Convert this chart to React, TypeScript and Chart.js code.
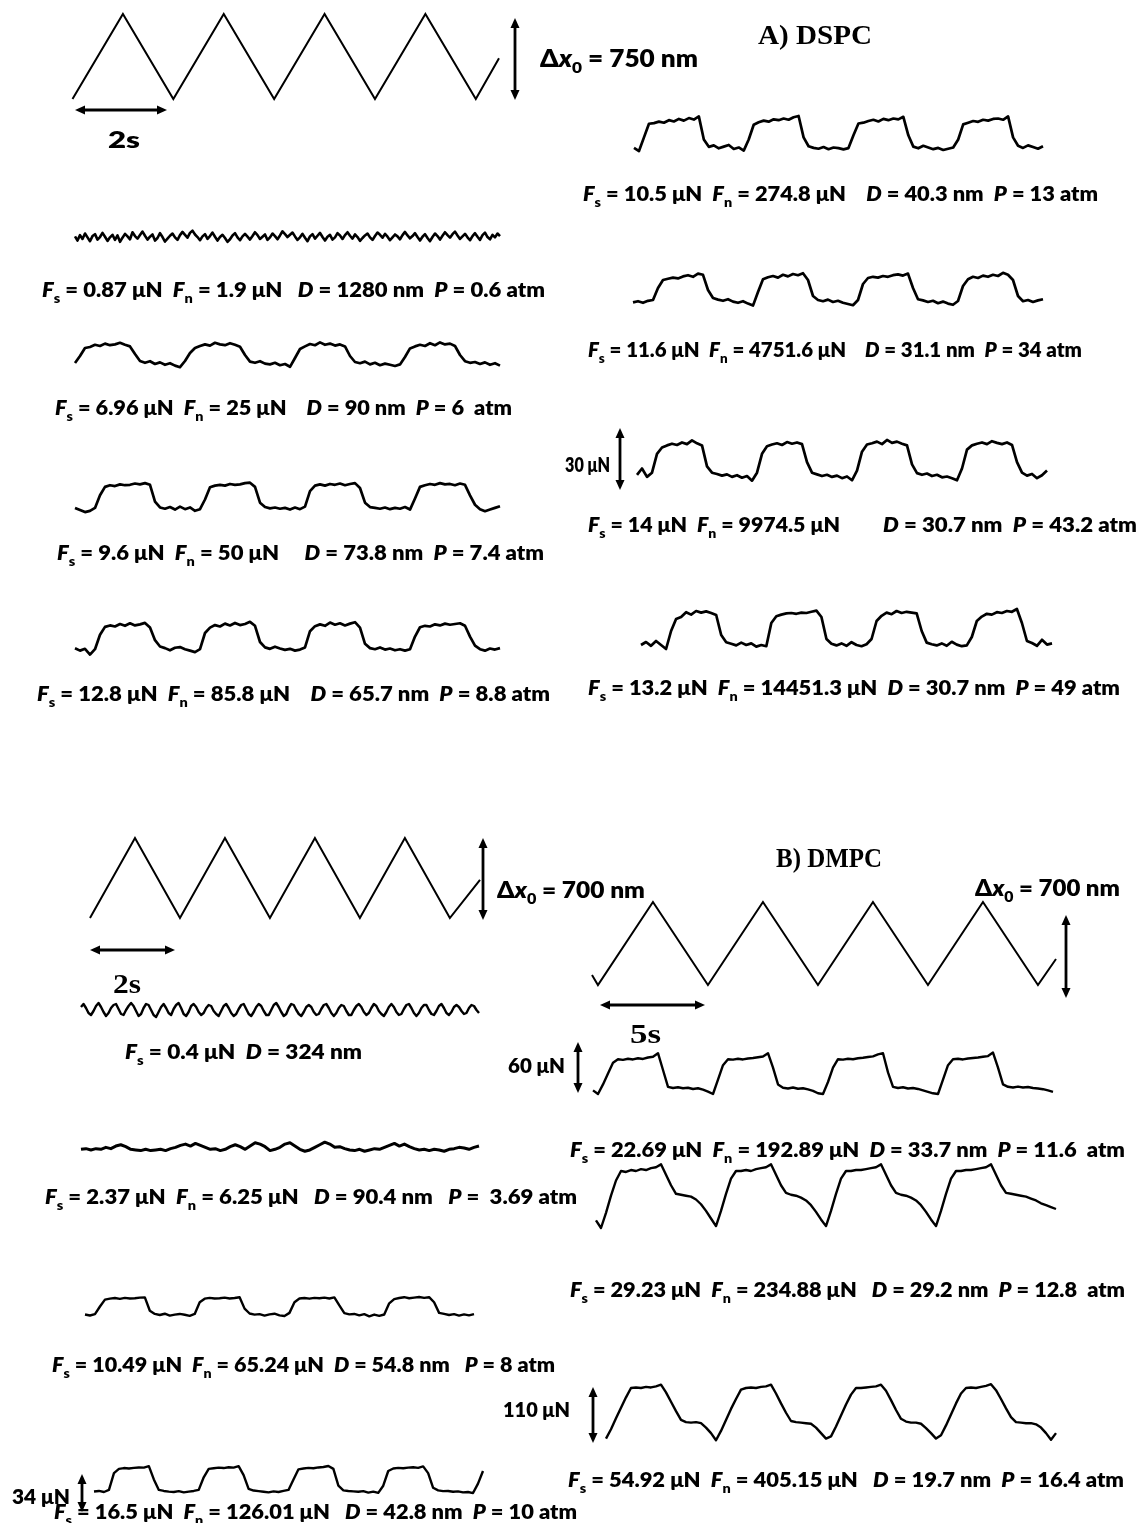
import React, { useEffect, useRef } from "react";
import { Chart, registerables } from "chart.js";
Chart.register(...registerables);

// ---------------- DATA ----------------
// Drive signals (time in s, displacement in nm), vertices of the triangle waves
const A_DRIVE_T = [0, 1, 2, 3, 4, 5, 6, 7, 8, 8.46];
const A_DRIVE_NM = [-375, 375, -375, 375, -375, 375, -375, 375, -375, -15];
const B_DRIVE_L_T = [0, 1, 2, 3, 4, 5, 6, 7, 8, 8.67];
const B_DRIVE_L_NM = [-350, 350, -350, 350, -350, 350, -350, 350, -350, -17];
const B_DRIVE_R_T = [-0.27, 0, 2.5, 5, 7.5, 10, 12.5, 15, 17.5, 20, 20.82];
const B_DRIVE_R_NM = [-266, -350, 350, -350, 350, -350, 350, -350, 350, -350, -131];

// Friction signals (μN, sampled at a fixed time step)
const A_T1 = [0.5,-0.8,0.9,-0.3,1.4,0.2,-1.0,0.6,1.2,-0.5,0.3,1.6,0.4,-0.9,0.2,1.0,-0.6,0.8,-1.2,0.1,1.3,0.5,-0.4,1.8,0.6,-0.2,0.9,2.0,0.7,-0.5,0.4,1.1,-0.8,0.0,1.5,0.3,-1.1,-0.2,0.7,1.4,0.2,-0.6,0.9,1.9,1.0,0.1,1.6,2.3,1.1,0.3,-0.7,0.5,1.2,-0.3,0.6,1.7,0.4,-0.8,0.3,1.0,0.0,-1.2,-0.4,0.8,1.5,0.2,-0.7,0.5,1.3,0.4,-0.5,0.6,1.8,0.9,-0.3,0.4,1.1,-0.6,0.2,1.4,0.6,-0.4,0.8,2.1,1.2,0.3,1.0,1.7,0.5,-0.6,0.2,1.3,0.1,-1.0,0.5,1.2,-0.2,0.7,1.6,0.3,-0.8,0.4,1.0,-0.5,0.2,1.5,0.8,-0.3,0.9,1.8,0.7,-0.2,1.1,0.3,-0.9,0.0,0.8,1.4,0.2,-0.6,0.6,1.7,1.0,0.1,1.3,0.4,-0.7,0.2,1.1,0.5,-0.4,0.9,1.9,0.8,-0.1,0.6,1.5,0.3,-0.8,0.4,1.2,0.0,-1.0,0.3,1.4,0.6,-0.5,0.7,1.8,0.9,0.1,1.2,2.0,0.8,-0.3,0.5,1.3,0.2,-0.7,0.6,1.5,0.4,-0.6,0.9,1.7,0.3,-0.4,1.0,0.2,1.4,0.6];
const A_T2 = [1.5,5.0,9.0,9.5,10.6,10.0,11.2,10.4,10.8,11.6,10.6,9.8,6.0,2.5,1.6,2.4,1.0,1.8,0.6,1.4,0.2,-0.6,2.5,6.5,9.0,10.0,10.8,10.2,11.6,10.8,10.4,11.4,10.6,9.6,5.5,2.2,1.6,2.4,1.2,0.8,1.6,0.4,1.0,-0.4,4.0,8.5,9.8,11.0,10.4,11.8,10.6,11.2,10.2,10.8,9.8,5.0,2.0,1.4,2.2,0.8,1.6,0.4,1.2,0.6,0.0,0.8,4.5,8.8,9.8,10.6,10.0,11.4,10.4,11.8,10.8,11.2,10.0,5.5,2.4,1.6,2.0,1.0,1.8,0.6,1.4,0.2];
const A_T3 = [1.0,0.0,-1.0,-0.4,1.0,7.0,11.0,11.8,11.4,12.2,11.8,12.0,12.6,12.2,12.8,12.0,4.0,1.2,0.6,1.4,0.2,1.6,0.4,1.2,-0.4,0.4,5.0,10.8,11.6,12.0,11.6,12.4,12.0,12.2,12.8,13.0,11.0,3.5,1.4,0.8,1.2,0.6,1.0,0.2,1.2,0.4,1.6,9.0,11.6,12.2,11.6,12.4,12.0,12.6,11.8,12.4,12.8,10.5,3.5,1.4,1.0,0.6,1.2,0.4,1.0,0.6,1.4,0.2,5.5,11.0,11.8,12.4,12.0,12.8,12.2,12.4,11.8,12.6,12.0,7.0,2.5,0.4,-0.6,0.2,1.0,1.8];
const A_T4 = [1.5,0.2,1.2,-2.0,1.0,9.0,13.4,14.2,13.6,15.0,14.0,15.4,14.2,14.8,15.6,13.0,6.0,2.5,1.6,0.4,1.8,2.2,1.0,0.2,-0.6,1.0,10.0,13.0,14.4,13.6,15.2,14.2,15.6,14.4,15.0,16.2,14.0,5.0,2.0,1.2,2.4,1.4,0.6,1.2,0.2,0.8,2.0,11.0,13.8,14.8,14.0,15.8,14.6,15.4,14.2,15.2,16.0,13.0,4.0,1.6,1.0,2.0,0.8,1.4,0.4,1.0,0.2,1.0,8.0,13.2,14.0,13.6,14.8,14.2,15.2,14.6,15.0,15.4,14.0,8.0,3.0,1.0,0.2,1.4,0.8,1.6];
const A_R1 = [1.0,-0.5,6,12.5,12.8,13.5,13.0,14.2,13.6,14.8,14.0,15.2,14.5,16.0,5.0,1.5,2.2,0.8,1.6,2.4,0.5,1.2,-0.3,5,12,13.2,14.0,13.5,14.6,14.2,15.0,14.4,15.6,16.2,6,1.8,1.0,0.6,1.4,0.4,1.2,0.9,0.3,0.9,7,12.6,13.0,13.8,14.4,13.6,14.8,14.2,15.0,14.6,15.8,7,1.6,0.8,2.0,1.2,0.4,1.0,0.0,0.6,1.2,5,12.2,13.0,13.8,13.4,14.4,14.0,14.8,15.0,14.4,16.0,6,2.0,1.0,2.2,1.4,0.6,1.8];
const A_R2 = [0.8,1.4,0.6,1.6,2.0,8.0,12.0,12.6,13.2,12.8,13.8,14.4,13.6,15.2,14.6,7.0,3.0,2.2,1.6,2.4,1.2,0.6,1.4,0.2,-0.8,6.0,12.4,13.4,14.0,13.2,14.6,13.8,15.0,14.4,15.4,12.0,4.0,2.0,1.4,2.2,1.0,1.6,0.6,0.0,-0.6,2.0,10.0,13.0,13.6,13.2,14.0,13.6,14.4,14.8,14.2,15.2,8.0,2.4,1.8,1.0,1.6,0.4,1.2,0.2,-0.4,1.5,9.0,12.4,13.6,13.0,14.2,13.6,14.6,14.0,15.6,14.6,12.0,4.0,1.4,2.0,1.0,1.8,2.4];
const A_R3 = [2.0,5.0,1.0,3.0,12.0,15.0,16.0,16.8,16.2,17.4,16.6,18.4,17.0,16.0,6.0,3.0,2.4,1.6,2.2,1.0,1.8,0.6,1.4,-0.8,3.0,12.0,15.6,16.4,17.0,16.2,17.6,16.8,17.4,16.6,8.0,3.0,2.2,1.4,2.0,1.0,1.6,0.4,1.2,-0.6,4.0,13.0,16.4,17.0,17.8,16.6,18.6,17.2,17.8,16.8,16.0,7.0,2.8,2.0,2.6,1.4,2.0,0.8,1.2,0.4,-0.6,5.0,14.0,16.0,16.8,17.4,16.6,18.0,17.2,16.6,17.4,16.2,8.0,3.0,1.6,2.4,0.4,1.8,4.0];
const A_R4 = [1.0,2.5,0.6,3.0,1.0,-1.0,8.0,14.0,15.0,17.4,16.2,18.0,17.2,17.8,17.0,16.0,6.0,2.4,1.6,0.8,2.2,1.0,1.8,0.2,1.0,0.4,12.0,15.4,16.2,16.8,17.0,16.6,17.2,17.0,17.6,18.2,15.0,4.0,1.6,0.8,1.8,0.6,2.4,1.0,0.4,1.4,4.0,13.0,15.6,17.2,16.4,18.0,17.0,17.6,17.2,16.8,8.0,2.2,1.4,0.8,1.8,0.6,2.6,1.2,0.4,0.8,5.0,13.0,15.2,16.6,16.2,17.4,17.0,18.0,17.6,19.0,12.0,3.0,2.0,0.6,3.6,1.2,1.8];

const B_T1 = [1.5,3.0,1.0,-1.5,-2.5,-0.5,2.0,3.5,1.5,-1.0,-3.0,-1.5,1.0,2.5,3.0,0.5,-2.0,-2.5,0.0,2.0,3.5,2.0,-0.5,-3.0,-2.0,1.0,3.0,2.5,0.0,-2.5,-3.5,-1.0,1.5,3.0,1.0,-1.5,-2.5,0.5,2.5,3.5,1.0,-2.0,-3.0,-1.0,2.0,3.0,1.5,-1.0,-2.5,-1.5,1.0,2.5,2.0,-0.5,-2.0,-3.0,-0.5,2.0,3.0,1.0,-1.5,-3.0,-2.0,0.5,2.5,3.0,0.5,-2.0,-3.0,-1.0,1.5,3.0,2.0,-0.5,-2.5,-2.5,0.0,2.5,3.5,1.5,-1.0,-3.0,-2.0,1.0,3.0,2.5,0.0,-2.0,-3.0,-1.0,1.5,2.5,1.5,-1.0,-2.5,-2.0,0.5,2.5,3.0,1.0,-1.5,-3.0,-1.5,1.0,2.5,2.0,-0.5,-2.5,-2.5,0.0,2.0,3.0,1.5,-1.0,-2.5,-1.5,1.0,3.0,2.0,-0.5,-2.0,-3.0,-1.0,1.5,3.0,1.5,-1.0,-2.5,-2.0,0.5,2.5,3.0,1.0,-1.5,-3.0,-1.5,1.0,2.5,2.5,0.0,-2.0,-2.5,-0.5,2.0,3.0,1.0,-1.5,-2.5,-1.0,1.5,2.5,1.5,-0.5,-2.0,-1.5,1.0,2.5,2.0,0.0,-1.5];
const B_T2 = [-1.0,-0.5,-1.5,-0.5,-1.0,0.5,-0.5,1.5,2.5,1.0,-1.0,-1.5,-2.0,-1.0,-2.0,-1.5,-1.0,-2.0,-0.5,0.5,2.0,3.0,1.5,3.5,2.0,0.5,-1.0,-0.5,-2.0,-1.0,1.0,2.5,1.0,-1.0,1.5,4.0,3.0,1.0,-2.0,-1.0,0.5,3.0,4.0,1.5,-1.0,-2.5,-1.5,0.5,2.5,4.5,3.0,0.5,1.0,-0.5,-1.5,-2.0,-1.0,-2.5,-1.5,-0.5,-1.0,0.5,2.0,3.5,1.5,3.0,1.0,-0.5,-1.5,-1.0,-2.0,-1.0,-1.5,-2.5,-1.0,-0.5,0.5,0.0,-1.0,0.5,1.5];
const B_T3 = [0.5,-0.5,0.8,8.0,14.5,15.5,16.0,15.2,16.2,15.6,15.8,16.4,16.6,4.0,1.0,0.0,1.2,-0.6,0.4,1.0,0.2,-0.8,1.0,12.0,15.4,16.2,15.6,15.8,16.4,15.6,16.0,16.8,6.0,1.4,0.4,0.8,-0.6,0.6,1.2,-0.4,-1.0,2.0,12.0,15.6,16.0,15.4,16.2,15.8,16.4,15.6,16.6,9.0,1.8,0.6,1.0,-0.4,0.8,-1.2,0.4,-0.8,0.5,11.0,15.0,16.0,16.8,15.8,16.4,17.0,16.2,16.8,12.0,2.0,1.0,0.0,0.8,-0.6,0.6,-0.4,0.8];
const B_T4 = [0.5,1.0,0.0,2.0,18.0,22.0,22.8,22.4,23.0,23.4,23.2,24.6,12.0,2.0,1.0,0.4,0.0,0.8,-0.4,0.4,1.0,2.0,14.0,22.0,22.6,23.2,22.8,23.6,23.2,24.6,16.0,3.0,1.4,0.8,0.2,-0.4,0.6,0.0,1.0,2.0,12.0,21.6,22.4,23.0,22.6,23.4,23.8,24.8,22.0,6.0,1.6,1.0,0.6,0.2,0.8,-0.6,0.4,-0.8,6.0,20.0,22.4,23.0,22.6,23.2,23.6,23.0,24.4,18.0,4.0,1.6,0.8,1.0,0.2,0.6,-0.4,0.0,-1.0,8.0,20.0];
const B_R1 = [3.0,0.0,8.0,17.0,26.0,29.0,28.4,29.4,28.8,29.8,29.2,30.4,31.0,34.0,20.0,6.0,5.0,5.6,4.8,5.2,4.2,4.8,3.6,2.0,0.0,12.0,24.0,29.0,28.6,29.4,28.8,29.6,30.0,30.6,31.2,34.0,22.0,8.0,5.2,4.6,5.4,4.4,4.8,3.8,2.6,0.6,0.0,10.0,22.0,29.0,28.6,29.4,29.0,29.8,30.2,30.8,31.4,33.0,34.0,18.0,6.0,5.0,5.6,4.6,5.0,4.2,3.0,1.8,0.6,0.0,12.0,24.0,29.0,29.4,28.8,29.6,30.0,30.4,31.0,31.6,34.5,22.0,8.0,6.0,5.4,6.2,5.4,5.8,5.0,4.6,4.0,3.0,1.8];
const B_R2 = [8,0,16,34,50,60,59,61,60,62,61,63,64,67,56,45,36,35,34,33,30,25,18,10,2,18,36,52,60,60,61,60,62,63,64,67,56,45,37,35,34,32,29,24,17,9,2,18,36,52,60,60,61,61,62,63,64,67,56,45,37,35,34,32,29,24,17,9,2,18,36,52,60,60,61,61,62,63,64,67,56,45,37,36,35,34,33,31,29,26,24,22,20];
const B_R3 = [8,25,45,64,83,100,101,100,102,101,103,106,92,75,58,42,38,37,38,36,28,18,5,22,42,62,80,97,100,101,100,102,103,106,90,72,55,40,38,37,36,35,28,18,8,12,30,50,70,88,100,100,101,102,103,106,95,78,60,44,39,37,37,35,27,18,8,14,32,52,72,90,100,101,100,102,104,107,96,80,63,47,38,37,36,36,34,28,18,6,18];

// Text content
const TITLE_A = "A) DSPC";
const TITLE_B = "B) DMPC";
const AMP_A = "Δx_0 = 750 nm";
const AMP_B = "Δx_0 = 700 nm";
const TIME_LABELS = ["2s", "2s", "5s"];
const FORCE_SCALES = ["30 μN", "60 μN", "110 μN", "34 μN"];
const LABELS_A = [
  "F_s = 0.87 μN  F_n = 1.9 μN   D = 1280 nm  P = 0.6 atm",
  "F_s = 6.96 μN  F_n = 25 μN    D = 90 nm  P = 6  atm",
  "F_s = 9.6 μN  F_n = 50 μN     D = 73.8 nm  P = 7.4 atm",
  "F_s = 12.8 μN  F_n = 85.8 μN    D = 65.7 nm  P = 8.8 atm",
  "F_s = 10.5 μN  F_n = 274.8 μN    D = 40.3 nm  P = 13 atm",
  "F_s = 11.6 μN  F_n = 4751.6 μN    D = 31.1 nm  P = 34 atm",
  "F_s = 14 μN  F_n = 9974.5 μN",
  "D = 30.7 nm  P = 43.2 atm",
  "F_s = 13.2 μN  F_n = 14451.3 μN  D = 30.7 nm  P = 49 atm",
];
const LABELS_B = [
  "F_s = 0.4 μN  D = 324 nm",
  "F_s = 2.37 μN  F_n = 6.25 μN   D = 90.4 nm   P =  3.69 atm",
  "F_s = 10.49 μN  F_n = 65.24 μN  D = 54.8 nm   P = 8 atm",
  "F_s = 16.5 μN  F_n = 126.01 μN   D = 42.8 nm  P = 10 atm",
  "F_s = 22.69 μN  F_n = 192.89 μN  D = 33.7 nm  P = 11.6  atm",
  "F_s = 29.23 μN  F_n = 234.88 μN   D = 29.2 nm  P = 12.8  atm",
  "F_s = 54.92 μN  F_n = 405.15 μN   D = 19.7 nm  P = 16.4 atm",
];

// ---------------- LAYOUT ----------------
const grid = (n: number, dt: number) => Array.from({ length: n }, (_, i) => i * dt);

type L = { px0: number; px1: number; py0: number; k: number; lw: number; join?: string };
const TRACES: { xs: number[]; ys: number[]; L: L }[] = [
  { xs: A_DRIVE_T, ys: A_DRIVE_NM, L: { px0: 72.5, px1: 499, py0: 56.5, k: 0.1133, lw: 2, join: "miter" } },
  { xs: grid(A_T1.length, 0.05), ys: A_T1, L: { px0: 75, px1: 500, py0: 238, k: 3.2, lw: 2.6 } },
  { xs: grid(A_T2.length, 0.1), ys: A_T2, L: { px0: 75, px1: 500, py0: 366, k: 2.0, lw: 2.7 } },
  { xs: grid(A_T3.length, 0.1), ys: A_T3, L: { px0: 75, px1: 500, py0: 510, k: 2.1, lw: 2.7 } },
  { xs: grid(A_T4.length, 0.1), ys: A_T4, L: { px0: 75, px1: 500, py0: 651, k: 1.8, lw: 2.7 } },
  { xs: grid(A_R1.length, 0.1), ys: A_R1, L: { px0: 634, px1: 1043, py0: 150, k: 2.1, lw: 2.7 } },
  { xs: grid(A_R2.length, 0.1), ys: A_R2, L: { px0: 633, px1: 1043, py0: 304, k: 2.0, lw: 2.7 } },
  { xs: grid(A_R3.length, 0.1), ys: A_R3, L: { px0: 637, px1: 1047, py0: 479, k: 2.1, lw: 2.7 } },
  { xs: grid(A_R4.length, 0.1), ys: A_R4, L: { px0: 641, px1: 1052, py0: 647, k: 2.0, lw: 2.7 } },
  { xs: B_DRIVE_L_T, ys: B_DRIVE_L_NM, L: { px0: 90, px1: 480, py0: 878, k: 0.1143, lw: 2, join: "miter" } },
  { xs: B_DRIVE_R_T, ys: B_DRIVE_R_NM, L: { px0: 592, px1: 1056, py0: 943.5, k: 0.1186, lw: 2, join: "miter" } },
  { xs: grid(B_T1.length, 0.05), ys: B_T1, L: { px0: 81, px1: 479, py0: 1010, k: 2.0, lw: 2.4 } },
  { xs: grid(B_T2.length, 0.1), ys: B_T2, L: { px0: 81, px1: 479, py0: 1148, k: 1.3, lw: 3 } },
  { xs: grid(B_T3.length, 0.1), ys: B_T3, L: { px0: 85, px1: 474, py0: 1315, k: 1.06, lw: 2.4 } },
  { xs: grid(B_T4.length, 0.1), ys: B_T4, L: { px0: 94, px1: 483, py0: 1492, k: 1.05, lw: 2.4 } },
  { xs: grid(B_R1.length, 0.25), ys: B_R1, L: { px0: 593, px1: 1053, py0: 1094, k: 1.2, lw: 2.4 } },
  { xs: grid(B_R2.length, 0.25), ys: B_R2, L: { px0: 596, px1: 1056, py0: 1228, k: 0.95, lw: 2.4 } },
  { xs: grid(B_R3.length, 0.25), ys: B_R3, L: { px0: 606, px1: 1056, py0: 1443, k: 0.55, lw: 2.4 } },
];

// label boxes: [xStart, xEnd, centreY]
const LABEL_POS_A = [
  [42, 545, 290], [55, 512, 408], [57, 544, 553], [37, 550, 694],
  [583, 1098, 194], [588, 1082, 350], [588, 840, 525], [883, 1137, 525], [588, 1120, 688],
];
const LABEL_POS_B = [
  [125, 362, 1052], [45, 577, 1197], [52, 555, 1365], [54, 577, 1512],
  [570, 1125, 1150], [570, 1125, 1290], [568, 1124, 1480],
];
// double arrows: x1,y1,x2,y2
const ARROWS = [
  [515, 18, 515, 100], [75, 110, 167, 110], [620, 428, 620, 490],
  [483, 838, 483, 920], [90, 950, 175, 950], [1066, 915, 1066, 998], [600, 1005, 705, 1005],
  [578, 1042, 578, 1093], [593, 1387, 593, 1443], [82, 1474, 82, 1512],
];
const FORCE_POS = [[565, 610, 465], [508, 565, 1066], [503, 570, 1410], [12, 70, 1497]];
const TIME_POS = [[108, 140, 140, "sans"], [113, 141, 985, "serif"], [630, 661, 1035, "serif"]];

// ---------------- COMPONENTS ----------------
function Trace({ xs, ys, L }: { xs: number[]; ys: number[]; L: L }) {
  const ref = useRef<HTMLCanvasElement | null>(null);
  const pad = 8;
  const xa = xs[0], xb = xs[xs.length - 1];
  const kx = (L.px1 - L.px0) / (xb - xa);
  const ymin = Math.min(...ys), ymax = Math.max(...ys);
  const left = Math.floor(L.px0 - pad), right = Math.ceil(L.px1 + pad);
  const top = Math.floor(L.py0 - ymax * L.k - pad), bottom = Math.ceil(L.py0 - ymin * L.k + pad);
  const w = right - left, h = bottom - top;
  const xMin = xa - (L.px0 - left) / kx, xMax = xb + (right - L.px1) / kx;
  const yMax = (L.py0 - top) / L.k, yMin = (L.py0 - bottom) / L.k;
  useEffect(() => {
    const chart = new Chart(ref.current as HTMLCanvasElement, {
      type: "line",
      data: {
        datasets: [{
          data: xs.map((x, i) => ({ x, y: ys[i] })),
          borderColor: "#000",
          borderWidth: L.lw,
          pointRadius: 0,
          tension: 0,
          fill: false,
          borderJoinStyle: (L.join || "round") as any,
          borderCapStyle: "butt",
        }],
      },
      options: {
        animation: false,
        responsive: false,
        devicePixelRatio: 1,
        events: [],
        layout: { padding: 0 },
        plugins: { legend: { display: false }, tooltip: { enabled: false } },
        scales: {
          x: { type: "linear", display: false, min: xMin, max: xMax },
          y: { type: "linear", display: false, min: yMin, max: yMax },
        },
      },
    });
    return () => chart.destroy();
  }, []);
  return <canvas ref={ref} width={w} height={h} style={{ position: "absolute", left, top, width: w, height: h }} />;
}

function Rich({ s, size }: { s: string; size: number }) {
  const parts = s.split(/(F_s|F_n|Δx_0|\bD(?= =)|\bP(?= =))/).filter((p) => p !== "");
  const sub = size * 0.66, d = size * 0.26;
  const out: any[] = [];
  let shift = 0, key = 0;
  for (const p of parts) {
    if (p === "F_s" || p === "F_n") {
      out.push(<tspan key={key++} dy={-shift} fontStyle="italic">F</tspan>);
      out.push(<tspan key={key++} dy={d} fontSize={sub}>{p[2]}</tspan>);
      shift = d;
    } else if (p === "Δx_0") {
      out.push(<tspan key={key++} dy={-shift}>Δ</tspan>);
      out.push(<tspan key={key++} fontStyle="italic">x</tspan>);
      out.push(<tspan key={key++} dy={d} fontSize={sub}>0</tspan>);
      shift = d;
    } else if (p === "D" || p === "P") {
      out.push(<tspan key={key++} dy={-shift} fontStyle="italic">{p}</tspan>);
      shift = 0;
    } else {
      out.push(<tspan key={key++} dy={-shift}>{p}</tspan>);
      shift = 0;
    }
  }
  return <>{out}</>;
}

const SANS = "Lato, 'Open Sans', sans-serif";
const SERIF = "'Liberation Serif', 'DejaVu Serif', serif";

function Label({ s, x1, x2, cy, size = 20.5 }: { s: string; x1: number; x2: number; cy: number; size?: number }) {
  return (
    <text x={x1} y={cy + size * 0.36} textLength={x2 - x1} lengthAdjust="spacingAndGlyphs"
      fontFamily={SANS} fontWeight={800} fontSize={size} fill="#000" style={{ whiteSpace: "pre" }}>
      <Rich s={s} size={size} />
    </text>
  );
}

function Arrow({ a }: { a: number[] }) {
  const [x1, y1, x2, y2] = a;
  const len = Math.hypot(x2 - x1, y2 - y1);
  const ux = (x2 - x1) / len, uy = (y2 - y1) / len;
  const hl = 10, hw = 4.5;
  const head = (tx: number, ty: number, dx: number, dy: number) => {
    const bx = tx - dx * hl, by = ty - dy * hl;
    return `M${tx},${ty} L${bx - dy * hw},${by + dx * hw} L${bx + dy * hw},${by - dx * hw} Z`;
  };
  return (
    <g>
      <line x1={x1 + ux * 6} y1={y1 + uy * 6} x2={x2 - ux * 6} y2={y2 - uy * 6} stroke="#000" strokeWidth={2.8} />
      <path d={head(x2, y2, ux, uy)} fill="#000" />
      <path d={head(x1, y1, -ux, -uy)} fill="#000" />
    </g>
  );
}

export default function App() {
  return (
    <div style={{ position: "absolute", left: 0, top: 0, width: 1139, height: 1523, background: "#fff", overflow: "hidden" }}>
      {TRACES.map((t, i) => <Trace key={i} xs={t.xs} ys={t.ys} L={t.L} />)}
      <svg width={1139} height={1523} style={{ position: "absolute", left: 0, top: 0 }}>
        {ARROWS.map((a, i) => <Arrow key={i} a={a} />)}
        <text x={758} y={44} textLength={114} lengthAdjust="spacingAndGlyphs" fontFamily={SERIF} fontWeight={700} fontSize={28}>{TITLE_A}</text>
        <text x={776} y={867} textLength={106} lengthAdjust="spacingAndGlyphs" fontFamily={SERIF} fontWeight={700} fontSize={27}>{TITLE_B}</text>
        <Label s={AMP_A} x1={540} x2={698} cy={58} size={24} />
        <Label s={AMP_B} x1={497} x2={645} cy={890} size={22} />
        <Label s={AMP_B} x1={975} x2={1120} cy={888} size={22} />
        {TIME_LABELS.map((t, i) => {
          const p = TIME_POS[i] as any[];
          return (
            <text key={i} x={p[0]} y={p[2] + 8} textLength={p[1] - p[0]} lengthAdjust="spacingAndGlyphs"
              fontFamily={p[3] === "serif" ? SERIF : SANS} fontWeight={p[3] === "serif" ? 700 : 800} fontSize={p[3] === "serif" ? 27 : 23}>{t}</text>
          );
        })}
        {FORCE_SCALES.map((t, i) => (
          <Label key={i} s={t} x1={FORCE_POS[i][0]} x2={FORCE_POS[i][1]} cy={FORCE_POS[i][2]} />
        ))}
        {LABELS_A.map((s, i) => (
          <Label key={"a" + i} s={s} x1={LABEL_POS_A[i][0]} x2={LABEL_POS_A[i][1]} cy={LABEL_POS_A[i][2]} />
        ))}
        {LABELS_B.map((s, i) => (
          <Label key={"b" + i} s={s} x1={LABEL_POS_B[i][0]} x2={LABEL_POS_B[i][1]} cy={LABEL_POS_B[i][2]} />
        ))}
      </svg>
    </div>
  );
}
